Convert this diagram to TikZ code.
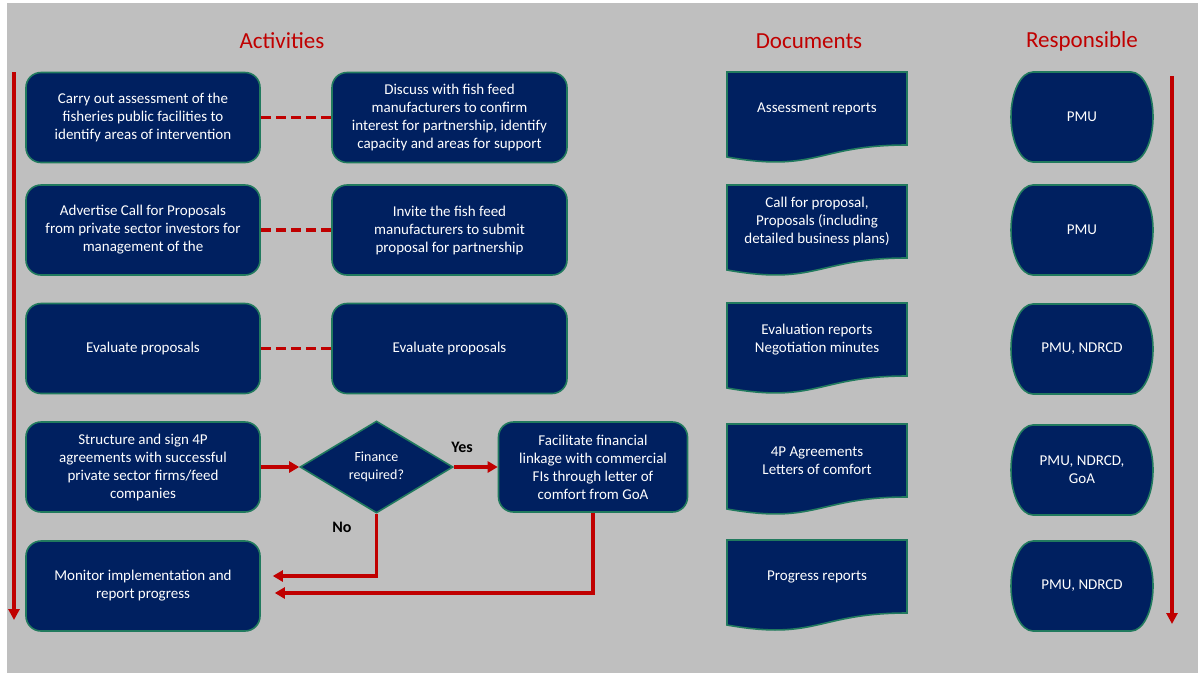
\documentclass[tikz,border=0pt]{standalone}
\usepackage{fontspec}
\setmainfont{Carlito}
\usetikzlibrary{shapes.geometric,arrows.meta}
\definecolor{navy}{HTML}{002060}
\definecolor{edgegreen}{HTML}{217A5E}
\definecolor{flowred}{HTML}{C00000}
\definecolor{panel}{HTML}{BFBFBF}

\begin{document}
\begin{tikzpicture}[x=1pt,y=-1pt,
  txt/.style={text=white,font=\fontsize{15}{18}\selectfont,align=center},
  actbox/.style={txt,draw=edgegreen,line width=1.6pt,fill=navy,
    rounded corners=15pt,minimum height=90pt,inner sep=2pt},
  decision/.style={txt,diamond,draw=edgegreen,line width=1.6pt,fill=navy,
    minimum width=153pt,minimum height=92pt,inner sep=0pt,
    font=\fontsize{14}{18}\selectfont},
  shapeline/.style={draw=edgegreen,line width=1.6pt,fill=navy},
  heading/.style={text=flowred,font=\fontsize{23}{28}\selectfont},
  answer/.style={text=black,font=\fontsize{16}{19}\selectfont\bfseries},
  flow/.style={draw=flowred,line width=3.6pt,
    -{Triangle[length=10pt,width=11pt]}},
  linkdash/.style={draw=flowred,line width=3.6pt,dash pattern=on 10pt off 5pt}
]
\useasboundingbox (0,0) rectangle (1198,673);
\fill[panel] (7,3) rectangle (1198,673);

% column headings
\node[heading] (hact) at (282,41) {Activities};
\node[heading] (hdoc) at (809,41) {Documents};
\node[heading] (hres) at (1082,41) {Responsible};

% activities
\node[actbox,minimum width=234pt] (a1) at (143,117.5)
  {Carry out assessment of the\\fisheries public facilities to\\identify areas of intervention};
\node[actbox,minimum width=235pt] (b1) at (449.5,117.5)
  {Discuss with fish feed\\manufacturers to confirm\\interest for partnership, identify\\capacity and areas for support};
\node[actbox,minimum width=234pt] (a2) at (143,230)
  {Advertise Call for Proposals\\from private sector investors for\\management of the};
\node[actbox,minimum width=235pt] (b2) at (449.5,230)
  {Invite the fish feed\\manufacturers to submit\\proposal for partnership};
\node[actbox,minimum width=234pt] (a3) at (143,348.5) {Evaluate proposals};
\node[actbox,minimum width=235pt] (b3) at (449.5,348.5) {Evaluate proposals};
\node[actbox,minimum width=234pt] (a4) at (143,467)
  {Structure and sign 4P\\agreements with successful\\private sector firms/feed\\companies};
\node[decision] (dec) at (376.5,467) {Finance\\required?};
\node[actbox,minimum width=189pt] (fac) at (593,467)
  {Facilitate financial\\linkage with commercial\\FIs through letter of\\comfort from GoA};
\node[actbox,minimum width=234pt] (a5) at (143,586)
  {Monitor implementation and\\report progress};

% links between parallel activities
\draw[linkdash] (a1.east) -- (b1.west);
\draw[linkdash] (a2.east) -- (b2.west);
\draw[linkdash] (a3.east) -- (b3.west);

% decision flow
\draw[flow] (a4.east) -- (dec.west);
\draw[flow] (dec.east) -- (fac.west);
\node[answer] (yes) at (462,447) {Yes};
\node[answer] (no) at (342,527) {No};
\draw[flow] (dec.south) |- ([xshift=12pt,yshift=10pt]a5.east);
\draw[flow] (fac.south) |- ([xshift=14pt,yshift=-7pt]a5.east);

% time arrows
\coordinate (ltop) at (14,72);
\coordinate (lbot) at (14,620);
\draw[flow,line width=3.3pt,-{Triangle[length=11pt,width=11pt]}] (ltop) -- (lbot);
\coordinate (rtop) at (1172,76);
\coordinate (rbot) at (1172,624);
\draw[flow,line width=3.3pt,-{Triangle[length=11pt,width=11pt]}] (rtop) -- (rbot);

% documents (wavy-bottom sheets)
\foreach \t/\txt [count=\i] in {
    72/{Assessment reports},
    185/{Call for proposal,\\Proposals (including\\detailed business plans)},
    303/{Evaluation reports\\Negotiation minutes},
    424/{4P Agreements\\Letters of comfort},
    540/{Progress reports}} {
  \draw[shapeline] (727,\t) -- (907,\t) -- (907,\t+73)
    .. controls (817,\t+73) and (817,\t+101) .. (727,\t+85) -- cycle;
  \node[txt] (doc\i) at (817,\t+36.5) {\txt};
}

% responsible parties
\foreach \t/\txt [count=\i] in {
    72/{PMU},
    185/{PMU},
    304/{PMU, NDRCD},
    425/{PMU, NDRCD,\\GoA},
    541/{PMU, NDRCD}} {
  \draw[shapeline] (1033,\t) -- (1131,\t)
    arc[start angle=-90,end angle=90,x radius=22,y radius=45]
    -- (1033,\t+90)
    arc[start angle=90,end angle=270,x radius=22,y radius=45] -- cycle;
  \node[txt] (res\i) at (1082,\t+45) {\txt};
}
\end{tikzpicture}
\end{document}
